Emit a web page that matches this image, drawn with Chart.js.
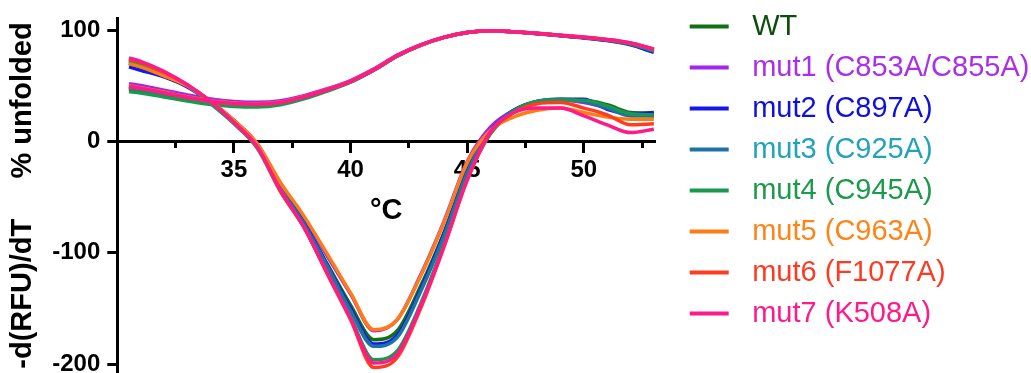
<!DOCTYPE html>
<html><head><meta charset="utf-8">
<script src="https://cdn.jsdelivr.net/npm/chart.js@4"></script>
<style>html,body{margin:0;padding:0;background:#fff}canvas{display:block}</style>
</head><body>
<canvas id="c" width="1031" height="373"></canvas>
<script>
// ---- data ----
const temps = [30.5, 31, 32, 33, 34, 35, 36, 37, 38, 39, 40, 41, 42, 43, 44, 45, 46, 47, 48, 49, 50, 51, 52, 53];
const seriesNames = ['WT', 'mut1 (C853A/C855A)', 'mut2 (C897A)', 'mut3 (C925A)', 'mut4 (C945A)', 'mut5 (C963A)', 'mut6 (F1077A)', 'mut7 (K508A)'];
const lineColors = ['#127012', '#a424f0', '#1616ee', '#1c74a6', '#199850', '#ff7b14', '#ff3b22', '#ff1a8a'];
const textColors = ['#0d4d0d', '#a830e8', '#1010dd', '#22a3b8', '#1c9a4c', '#ff8418', '#ff3a22', '#ff1a8a'];

// % unfolded
const meltWT   = [47, 45.5, 41.8, 38, 34.6, 32.8, 32.2, 34, 39.2, 46, 53.6, 64.3, 76.8, 86.4, 93.5, 98, 99.5, 98.5, 97, 95.2, 93.4, 91.2, 88, 82];
const meltMut1 = [52, 50.3, 46, 41.8, 38.2, 36, 35.2, 36.6, 41.2, 47.4, 54.8, 65.2, 77.6, 86.8, 93.7, 98.1, 99.5, 98.5, 97, 95.2, 93.4, 91.2, 88, 82.5];
const meltMut2 = [49, 47.4, 43.5, 39.5, 36, 34, 33.3, 35, 40, 46.5, 54, 64.5, 77, 86.5, 93.5, 98, 99.5, 98.4, 96.8, 95, 93, 90.6, 86.8, 80];
const meltMut3 = [48, 46.5, 42.7, 38.8, 35.4, 33.5, 32.9, 34.6, 39.7, 46.3, 53.9, 64.4, 77, 86.5, 93.5, 98, 99.5, 98.5, 97, 95.2, 93.3, 91, 87.5, 81.3];
const meltMut4 = [45, 43.6, 40, 36.4, 33.2, 31.5, 31, 33, 38.3, 45.3, 53.2, 64, 76.7, 86.3, 93.4, 98, 99.5, 98.5, 97, 95.2, 93.4, 91.2, 87.8, 81.8];
const meltMut5 = [50, 48.4, 44.4, 40.3, 36.7, 34.6, 33.8, 35.4, 40.4, 46.8, 54.2, 64.6, 77, 86.5, 93.5, 98, 99.5, 98.6, 97.2, 95.5, 93.8, 91.7, 88.6, 83];
const meltMut6 = [49, 47.5, 43.6, 39.6, 36, 34, 33.3, 35, 40, 46.5, 54, 64.5, 77, 86.5, 93.5, 98, 99.5, 98.6, 97.1, 95.3, 93.6, 91.5, 88.4, 82.8];
const meltMut7 = [49.5, 47.8, 43.8, 39.7, 36.1, 34.1, 33.4, 35, 40, 46.5, 54, 64.5, 77, 86.5, 93.5, 98, 99.5, 98.6, 97.2, 95.4, 93.7, 91.6, 88.5, 83];

// -d(RFU)/dT
const derivWT   = [71, 68, 60, 50, 35, 17, -4, -42, -73, -110, -147, -178, -170, -130, -82, -26, 10, 28, 36, 37, 37, 33, 26, 25];
const derivMut1 = [73, 70, 61, 50, 36, 19, -2, -38, -68, -103, -137, -170, -160, -120, -72, -18, 13, 28, 35, 37, 35, 30, 25, 23];
const derivMut2 = [67, 64, 58, 49, 35, 17, -4, -42, -73, -111, -150, -182, -174, -133, -83, -27, 10, 28, 36, 38, 38, 29, 25, 26];
const derivMut3 = [70, 67, 59, 50, 35, 17, -4, -42, -74, -112, -152, -184, -176, -135, -85, -28, 10, 28, 36, 38, 36, 30, 23, 23];
const derivMut4 = [72, 69, 60, 50, 34, 16, -6, -45, -77, -118, -158, -196, -188, -146, -92, -33, 7, 27, 36, 37, 37, 32, 25, 24];
const derivMut5 = [70, 67, 59, 50, 36, 19, -2, -37, -67, -101, -136, -169, -160, -121, -73, -19, 10, 22, 28, 30, 26, 22, 20, 20];
const derivMut6 = [74, 71, 62, 51, 36, 17, -5, -45, -77, -119, -160, -203, -194, -150, -95, -35, 8, 26, 34, 35, 30, 24, 15, 16];
const derivMut7 = [75, 72, 63, 51, 36, 17, -5, -44, -77, -118, -159, -199, -191, -148, -94, -34, 9, 26, 30, 30, 23, 15, 8, 11];

const xMajorTicks = [35, 40, 45, 50];
const xMinorTicks = [32.5, 37.5, 42.5, 47.5, 52.5];
const yTicks = [-200, -100, 0, 100];
const xTitle = '°C';
const yTitle = '-d(RFU)/dT     % unfolded';

// ---- build ----
const meltSeries = [meltWT, meltMut1, meltMut2, meltMut3, meltMut4, meltMut5, meltMut6, meltMut7];
const derivSeries = [derivWT, derivMut1, derivMut2, derivMut3, derivMut4, derivMut5, derivMut6, derivMut7];

const FONT = 'Liberation Sans';
Chart.defaults.font.family = FONT;
Chart.defaults.color = '#000';

const datasets = [];
seriesNames.forEach((name, i) => {
  const common = {
    borderColor: lineColors[i], backgroundColor: lineColors[i], borderWidth: 3.5,
    pointRadius: 0, fill: false, cubicInterpolationMode: 'monotone',
    order: seriesNames.length - i, xAxisID: 'x', yAxisID: 'y'
  };
  datasets.push(Object.assign({label: name, data: temps.map((t, k) => ({x: t, y: meltSeries[i][k]}))}, common));
  datasets.push(Object.assign({label: name + ' -d(RFU)/dT', data: temps.map((t, k) => ({x: t, y: derivSeries[i][k]}))}, common));
});

const zeroPad = s => { s.paddingTop = 0; s.paddingBottom = 0; s.paddingLeft = 0; s.paddingRight = 0; };

new Chart(document.getElementById('c'), {
  type: 'line',
  data: {datasets},
  options: {
    responsive: false, animation: false, devicePixelRatio: 1,
    layout: {padding: 0, autoPadding: false},
    scales: {
      x: {
        type: 'linear', position: {y: 0}, min: 30, max: 53.05,
        afterBuildTicks: s => { s.ticks = xMajorTicks.map(v => ({value: v})); },
        afterFit: zeroPad,
        border: {display: true, color: '#000', width: 3},
        grid: {display: true, drawOnChartArea: false, drawTicks: true, tickLength: 10, tickWidth: 3, tickColor: '#000'},
        ticks: {font: {size: 24, weight: 'bold'}, color: '#000', padding: 4, maxRotation: 0, autoSkip: false},
        title: {display: true, text: xTitle, font: {size: 29, weight: 'bold'}, color: '#000', padding: {top: 5, bottom: 0}}
      },
      xMinor: {
        type: 'linear', position: {y: 0}, min: 30, max: 53.05,
        afterBuildTicks: s => { s.ticks = xMinorTicks.map(v => ({value: v})); },
        afterFit: zeroPad,
        border: {display: false},
        grid: {display: true, drawOnChartArea: false, drawTicks: true, tickLength: 7, tickWidth: 3, tickColor: '#000'},
        ticks: {display: true, callback: () => '', font: {size: 10}}
      },
      y: {
        type: 'linear', position: 'left', min: -207.94, max: 110.93,
        afterBuildTicks: s => { s.ticks = yTicks.map(v => ({value: v})); },
        afterFit: s => { zeroPad(s); s.width = 117.3; },
        border: {display: true, color: '#000', width: 3},
        grid: {display: true, drawOnChartArea: false, drawTicks: true, tickLength: 10, tickWidth: 3, tickColor: '#000'},
        ticks: {font: {size: 24, weight: 'bold'}, color: '#000', padding: 7},
        title: {display: true, text: yTitle, font: {size: 29, weight: 'bold'}, color: '#000', padding: {top: 6, bottom: 0}}
      },
      yPad: {
        type: 'linear', position: 'right', display: true,
        grid: {display: false}, border: {display: false}, ticks: {display: false},
        afterFit: s => { zeroPad(s); s.width = 22.7; }
      }
    },
    plugins: {
      tooltip: {enabled: false},
      title: {display: true, text: '', fullSize: false, position: 'top', padding: 0, font: {size: 15, lineHeight: 1.2}},
      legend: {
        display: true, position: 'right', align: 'start', fullSize: true, maxWidth: 353.3,
        onClick: () => {},
        labels: {
          font: {size: 29}, boxWidth: 48, boxHeight: 0, padding: 12,
          generateLabels: () => seriesNames.map((name, i) => ({
            text: name, fillStyle: 'rgba(0,0,0,0)', strokeStyle: lineColors[i],
            lineWidth: 4, lineDash: [39, 400], lineDashOffset: 0, lineCap: 'butt',
            hidden: false, fontColor: textColors[i], datasetIndex: i * 2
          }))
        }
      }
    }
  }
});
</script>
</body></html>
